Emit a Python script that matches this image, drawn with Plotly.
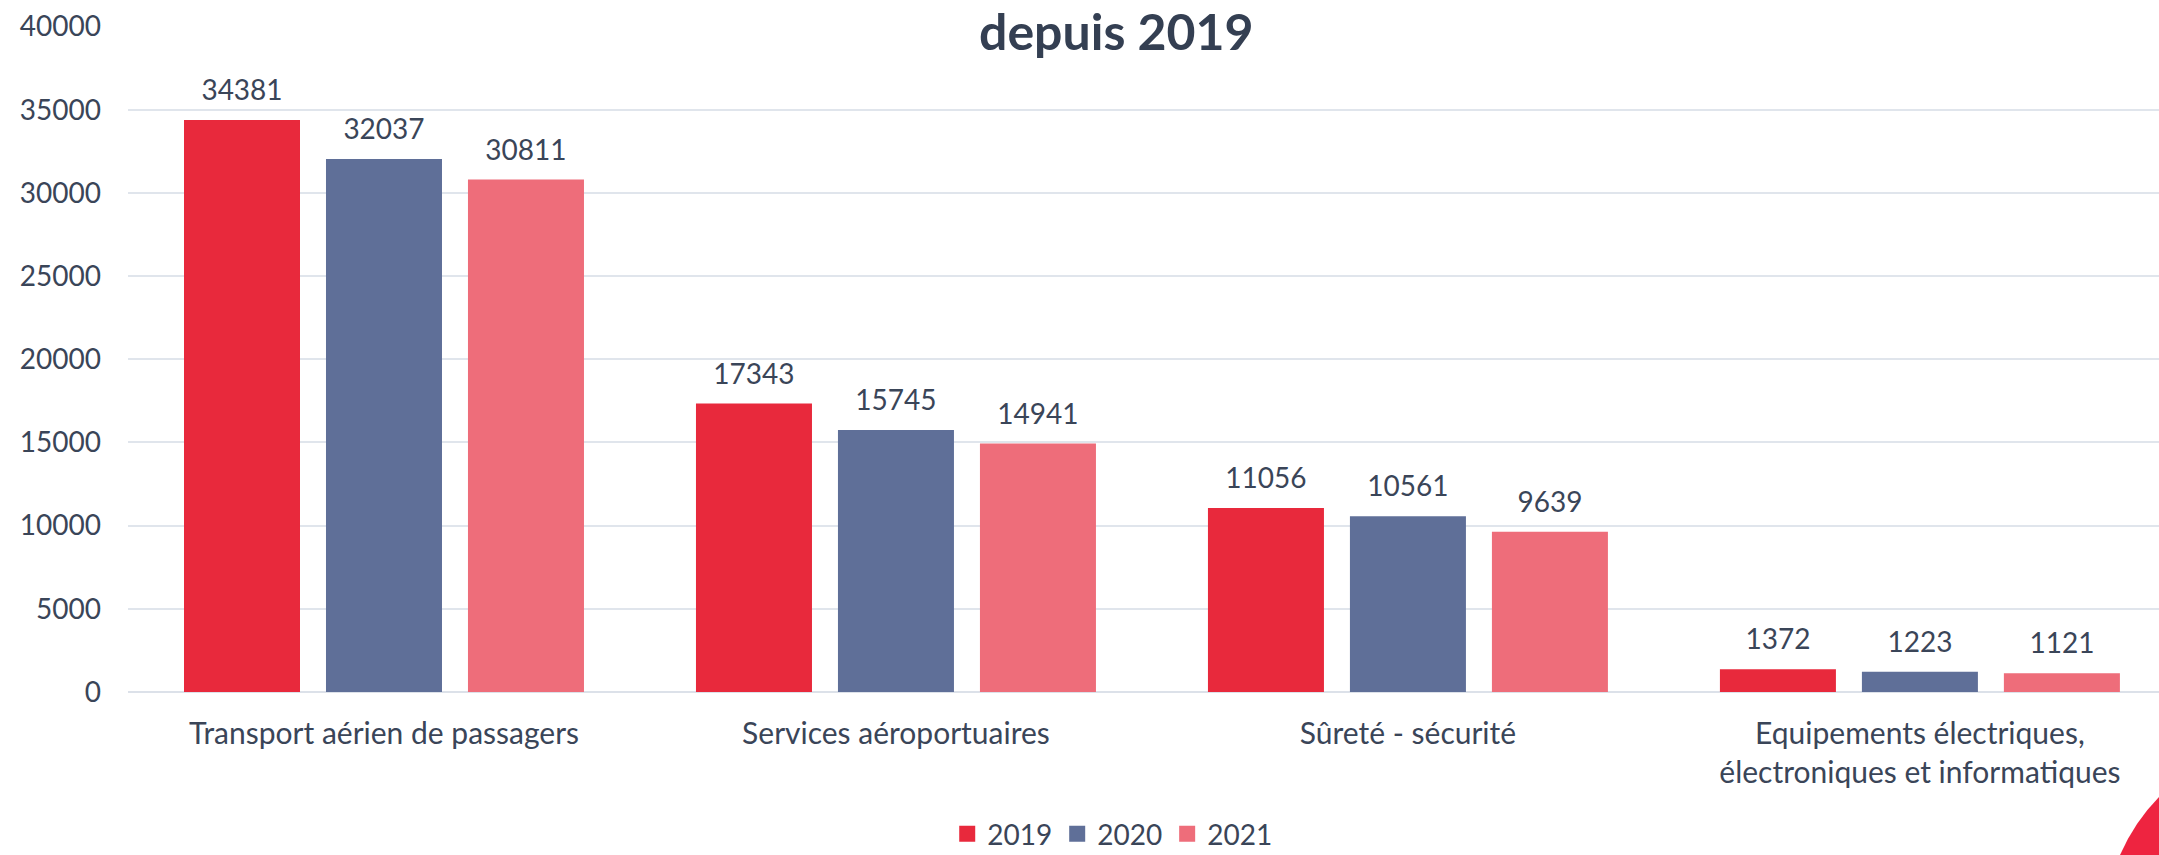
import plotly.graph_objects as go

categories = [
    "Transport aérien de passagers",
    "Services aéroportuaires",
    "Sûreté - sécurité",
    "Equipements électriques,<br>électroniques et informatiques",
]
years = ["2019", "2020", "2021"]
values_2019 = [34381, 17343, 11056, 1372]
values_2020 = [32037, 15745, 10561, 1223]
values_2021 = [30811, 14941, 9639, 1121]
series = [values_2019, values_2020, values_2021]
colors = ["#E8293C", "#5F6F98", "#EE6D7A"]
y_ticks = [0, 5000, 10000, 15000, 20000, 25000, 30000, 35000, 40000]

FONT = "Lato, Carlito, Calibri, sans-serif"
TXT = "#3A4558"

fig = go.Figure()
for yr, vals, col in zip(years, series, colors):
    fig.add_trace(go.Bar(
        x=categories, y=vals, name=yr, offsetgroup=yr,
        marker=dict(color=col, line=dict(width=0)),
        showlegend=False, hoverinfo="x+y",
    ))
for yr, vals, col in zip(years, series, colors):
    fig.add_trace(go.Scatter(
        x=categories, y=vals, mode="markers+text", text=[str(v) for v in vals],
        textposition="top center", offsetgroup=yr,
        marker=dict(size=19, color="rgba(0,0,0,0)"),
        textfont=dict(family=FONT, size=28, color=TXT),
        showlegend=False, hoverinfo="skip", cliponaxis=False,
    ))
for yr, col in zip(years, colors):
    fig.add_trace(go.Scatter(
        x=[None], y=[None], mode="markers", name=yr, offsetgroup=yr,
        marker=dict(symbol="square", size=18, color=col),
        showlegend=True, hoverinfo="skip",
    ))

fig.update_layout(
    width=2159, height=855,
    margin=dict(l=128, r=0, t=26, b=163, pad=0),
    paper_bgcolor="white", plot_bgcolor="white",
    barmode="group", bargap=0.168, bargroupgap=0.183,
    scattermode="group", scattergap=0.168,
    font=dict(family=FONT, size=28, color=TXT),
    annotations=[dict(
        text="<b>depuis 2019</b>", xref="paper", yref="paper",
        x=0.4867, y=0.9925, xanchor="center", yanchor="middle", showarrow=False,
        font=dict(family=FONT, size=50, color="#343F52"),
    )],
    legend=dict(orientation="h", x=0.4846, xanchor="center", y=0.0246, yref="container",
                yanchor="middle", font=dict(family=FONT, size=28, color=TXT),
                bgcolor="rgba(0,0,0,0)", itemsizing="trace", traceorder="normal"),
    xaxis=dict(range=[-0.5, 3.467], showgrid=False, showline=False, zeroline=False,
               ticks="", tickfont=dict(family=FONT, size=30, color=TXT),
               ticklabelstandoff=21, fixedrange=True),
    yaxis=dict(range=[0, 40030], tickvals=y_ticks, ticktext=[str(v) for v in y_ticks],
               showgrid=True, gridcolor="#E0E5EC", gridwidth=2,
               zeroline=True, zerolinecolor="#DCE1E9", zerolinewidth=2,
               showline=False, ticks="", tickfont=dict(family=FONT, size=28, color=TXT),
               ticklabelstandoff=26, fixedrange=True),
    shapes=[dict(
        type="path", xref="paper", yref="paper",
        path="M 0.9808,-0.2447 Q 0.988,-0.195 1.0,-0.1577 L 1.0,-0.2447 Z",
        fillcolor="#EE2440", line=dict(width=0), layer="above",
    )],
)

fig.write_html(
    "out.html",
    config={"displayModeBar": False},
    post_script="document.body.style.margin='0';document.body.style.overflow='hidden';",
)
